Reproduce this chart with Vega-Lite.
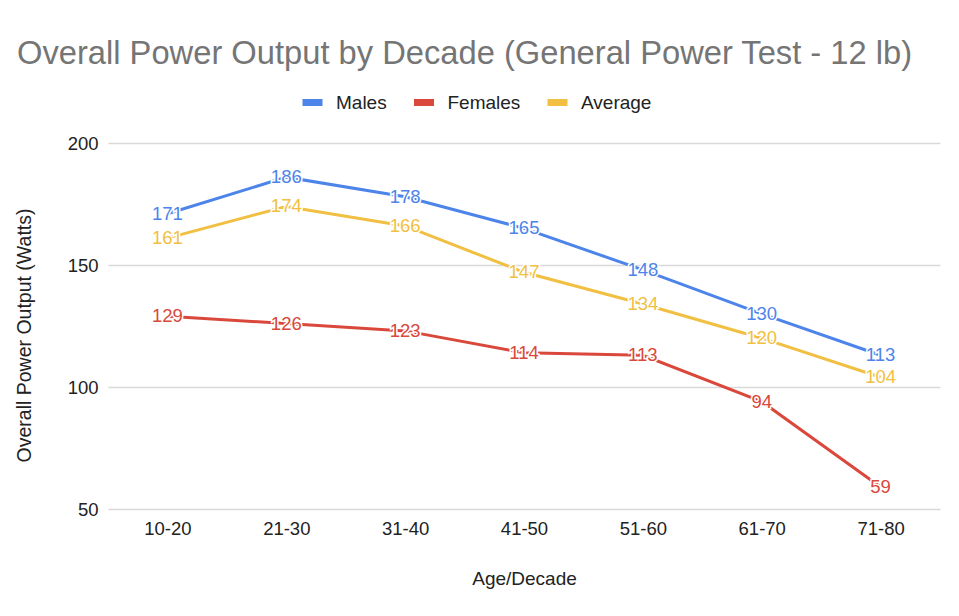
{
  "$schema": "https://vega.github.io/schema/vega-lite/v6.json",
  "description": "Overall power output by decade, males / females / average",
  "autosize": "none",
  "width": 832,
  "height": 366,
  "padding": {"left": 108, "top": 143, "right": 19, "bottom": 107},
  "background": "white",
  "config": {"font": "Liberation Sans", "view": {"stroke": null}},
  "title": {
    "text": "Overall Power Output by Decade (General Power Test - 12 lb)",
    "anchor": "start",
    "frame": "group",
    "fontSize": 32.7,
    "fontWeight": "normal",
    "color": "#757575",
    "baseline": "alphabetic",
    "dx": -91,
    "dy": 12
  },
  "data": {
    "values": [
      {"decade": "10-20", "group": "Males", "watts": 171},
      {"decade": "21-30", "group": "Males", "watts": 186},
      {"decade": "31-40", "group": "Males", "watts": 178},
      {"decade": "41-50", "group": "Males", "watts": 165},
      {"decade": "51-60", "group": "Males", "watts": 148},
      {"decade": "61-70", "group": "Males", "watts": 130},
      {"decade": "71-80", "group": "Males", "watts": 113},
      {"decade": "10-20", "group": "Females", "watts": 129},
      {"decade": "21-30", "group": "Females", "watts": 126},
      {"decade": "31-40", "group": "Females", "watts": 123},
      {"decade": "41-50", "group": "Females", "watts": 114},
      {"decade": "51-60", "group": "Females", "watts": 113},
      {"decade": "61-70", "group": "Females", "watts": 94},
      {"decade": "71-80", "group": "Females", "watts": 59},
      {"decade": "10-20", "group": "Average", "watts": 161},
      {"decade": "21-30", "group": "Average", "watts": 174},
      {"decade": "31-40", "group": "Average", "watts": 166},
      {"decade": "41-50", "group": "Average", "watts": 147},
      {"decade": "51-60", "group": "Average", "watts": 134},
      {"decade": "61-70", "group": "Average", "watts": 120},
      {"decade": "71-80", "group": "Average", "watts": 104}
    ]
  },
  "encoding": {
    "x": {
      "field": "decade",
      "type": "ordinal",
      "sort": ["10-20", "21-30", "31-40", "41-50", "51-60", "61-70", "71-80"],
      "scale": {"type": "point", "padding": 0.5},
      "axis": {
        "title": "Age/Decade",
        "labelAngle": 0,
        "labelFontSize": 18.5,
        "labelColor": "#222222",
        "labelPadding": 10,
        "domain": false,
        "ticks": false,
        "grid": false,
        "titleFontSize": 19,
        "titleFontWeight": "normal",
        "titleColor": "#222222",
        "titleBaseline": "alphabetic",
        "titleY": 75
      }
    },
    "y": {
      "field": "watts",
      "type": "quantitative",
      "scale": {"domain": [50, 200], "nice": false, "zero": false},
      "axis": {
        "title": "Overall Power Output (Watts)",
        "values": [50, 100, 150, 200],
        "labelFontSize": 18.5,
        "labelColor": "#222222",
        "labelPadding": 10,
        "domain": false,
        "ticks": false,
        "gridColor": "#d9d9d9",
        "gridWidth": 1.5,
        "titleFontSize": 19.5,
        "titleFontWeight": "normal",
        "titleColor": "#222222",
        "titleAngle": 270,
        "titleAlign": "center",
        "titleBaseline": "bottom",
        "titleX": -74,
        "titleY": 192
      }
    }
  },
  "layer": [
    {
      "mark": {"type": "line", "strokeWidth": 3},
      "encoding": {
        "color": {
          "field": "group",
          "type": "nominal",
          "scale": {"domain": ["Males", "Females", "Average"], "range": ["#4D84EA", "#D9483B", "#F1BF42"]},
          "legend": {
            "orient": "none",
            "legendX": 191,
            "legendY": -54,
            "direction": "horizontal",
            "gridAlign": "none",
            "title": null,
            "padding": 0,
            "symbolType": "stroke",
            "symbolSize": 400,
            "symbolStrokeWidth": 7,
            "labelFontSize": 19,
            "labelColor": "#222222",
            "labelOffset": 10,
            "columnPadding": 12.5
          }
        }
      }
    },
    {
      "mark": {"type": "text", "fontSize": 18.5, "align": "center", "baseline": "middle", "stroke": "white", "strokeWidth": 3, "fill": "white"},
      "encoding": {"text": {"field": "watts", "type": "quantitative"}}
    },
    {
      "mark": {"type": "text", "fontSize": 18.5, "align": "center", "baseline": "middle"},
      "encoding": {
        "text": {"field": "watts", "type": "quantitative"},
        "color": {"field": "group", "type": "nominal", "legend": null}
      }
    }
  ]
}
